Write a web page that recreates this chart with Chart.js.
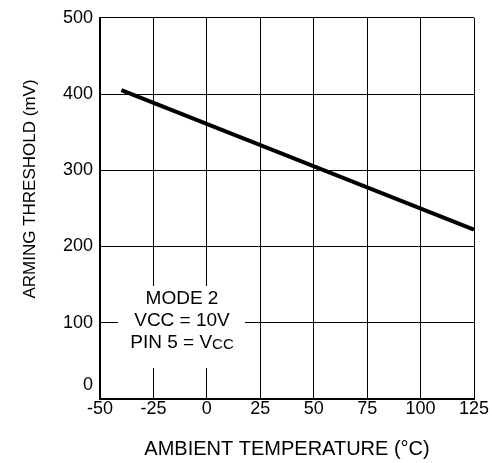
<!DOCTYPE html>
<html lang="en">
<head>
    <meta charset="UTF-8">
    <title>Arming Threshold vs Ambient Temperature</title>
    <style>
        * {
            margin: 0;
            padding: 0;
            box-sizing: border-box;
        }

        body {
            background: #fff;
            width: 492px;
            height: 463px;
            overflow: hidden;
        }

        canvas {
            display: block;
        }
    </style>
    <script src="https://cdn.jsdelivr.net/npm/chart.js"></script>
</head>
<body>
    <canvas id="armChart" width="492" height="463"></canvas>

    <script>
        // data
        const tempC = [-40, 125];
        const thresholdMv = [405, 222];

        const xTickLabels = ['-50', '-25', '0', '25', '50', '75', '100', '125'];
        const yTickLabels = ['0', '100', '200', '300', '400', '500'];

        const xTitle = 'AMBIENT TEMPERATURE (°C)';
        const yTitle = 'ARMING THRESHOLD (mV)';
        const noteLines = ['MODE 2', 'VCC = 10V', 'PIN 5 = V'];
        const noteSub = 'CC';

        const FONT = '"Liberation Sans", Arial, sans-serif';

        // extra drawing: white note box, the shifted "0" label and y title
        const annotations = {
            id: 'annotations',
            afterDraw(chart) {
                const c = chart.ctx;
                const xs = chart.scales.x, ys = chart.scales.y;
                c.save();

                // note box covers the grid behind the text
                c.fillStyle = '#fff';
                c.fillRect(118, 286, 127, 82);
                c.fillStyle = '#000';
                c.textBaseline = 'middle';
                c.textAlign = 'left';
                c.font = '19px ' + FONT;
                const cx = 182;
                const lineY = [299, 321, 343];
                for (let i = 0; i < 2; i++) {
                    const w = c.measureText(noteLines[i]).width;
                    c.fillText(noteLines[i], cx - w / 2, lineY[i]);
                }
                const w1 = c.measureText(noteLines[2]).width;
                c.font = '15px ' + FONT;
                const w2 = c.measureText(noteSub).width;
                const start = cx - (w1 + w2) / 2;
                c.font = '19px ' + FONT;
                c.fillText(noteLines[2], start, lineY[2]);
                c.font = '15px ' + FONT;
                c.fillText(noteSub, start + w1, lineY[2] + 2);

                // bottom y label sits a bit above the axis
                c.font = '18px ' + FONT;
                c.textAlign = 'right';
                c.fillText(yTickLabels[0], xs.left - 7, ys.getPixelForValue(0) - 14);

                // y axis title
                c.font = '17px ' + FONT;
                c.translate(30, 189);
                c.rotate(-Math.PI / 2);
                c.textAlign = 'center';
                c.fillText(yTitle, 0, 0);
                c.restore();
            }
        };

        const ctx = document.getElementById('armChart').getContext('2d');
        const armChart = new Chart(ctx, {
            type: 'scatter',
            data: {
                datasets: [{
                    data: tempC.map((t, i) => ({ x: t, y: thresholdMv[i] })),
                    showLine: true,
                    borderColor: '#000',
                    borderWidth: 4,
                    pointRadius: 0
                }]
            },
            options: {
                responsive: false,
                animation: false,
                layout: { padding: { top: 15, right: 18, left: 0, bottom: 0 } },
                plugins: {
                    legend: { display: false },
                    tooltip: { enabled: false }
                },
                scales: {
                    x: {
                        type: 'linear',
                        min: -50,
                        max: 125,
                        afterFit: (s) => { s.height = 64; },
                        afterBuildTicks: (s) => {
                            s.ticks = xTickLabels.map(v => ({ value: Number(v) }));
                        },
                        ticks: {
                            padding: -1,
                            color: '#000',
                            maxRotation: 0,
                            font: { family: FONT, size: 18 },
                            callback: (v) => String(v)
                        },
                        grid: { color: '#000', lineWidth: 1, drawTicks: false },
                        border: { color: '#000', width: 2 },
                        title: {
                            display: true,
                            text: xTitle,
                            color: '#000',
                            font: { family: FONT, size: 20 },
                            padding: { top: 0, bottom: 2 }
                        }
                    },
                    y: {
                        min: 0,
                        max: 500,
                        afterFit: (s) => { s.width = 100; },
                        afterBuildTicks: (s) => {
                            s.ticks = yTickLabels.map(v => ({ value: Number(v) }));
                        },
                        ticks: {
                            padding: 7,
                            color: '#000',
                            font: { family: FONT, size: 18 },
                            callback: (v) => (v === 0 ? '' : String(v))
                        },
                        grid: { color: '#000', lineWidth: 1, drawTicks: false },
                        border: { color: '#000', width: 2 }
                    }
                }
            },
            plugins: [annotations]
        });
    </script>
</body>
</html>
